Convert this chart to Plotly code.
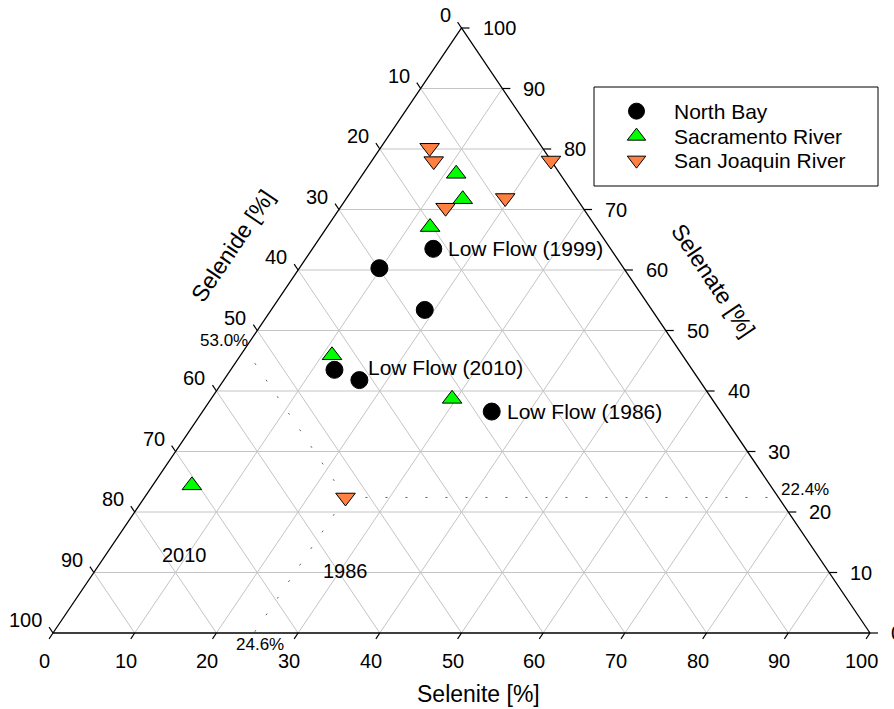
import plotly.graph_objects as go

# ---------------- data (percent) ----------------
north_bay_selenate = [63.5, 60.3, 53.4, 43.5, 41.8, 36.6]
north_bay_selenite = [14.8, 9.8, 18.8, 12.7, 16.6, 35.4]
north_bay_selenide = [21.7, 29.9, 27.8, 43.8, 41.6, 28.0]
north_bay_labels = ["Low Flow (1999)", "", "", "", "Low Flow (2010)", "Low Flow (1986)"]

sacramento_selenate = [75.9, 71.7, 67.1, 45.9, 38.7, 24.4]
sacramento_selenite = [11.4, 14.3, 12.6, 11.2, 29.5, 4.8]
sacramento_selenide = [12.7, 14.0, 20.3, 42.9, 31.8, 70.8]

san_joaquin_selenate = [80.2, 78.0, 70.3, 71.9, 78.1, 22.4]
san_joaquin_selenite = [6.0, 7.6, 12.9, 19.4, 21.9, 24.6]
san_joaquin_selenide = [13.8, 14.4, 16.8, 8.7, 0.0, 53.0]

tick_values = [0, 10, 20, 30, 40, 50, 60, 70, 80, 90, 100]
tick_labels = [str(v) for v in tick_values]

# guide point (San Joaquin River, 1986 low flow)
guide_selenate, guide_selenite, guide_selenide = 22.4, 24.6, 53.0
guide_labels = ["22.4%", "24.6%", "53.0%"]

# free text labels (selenate, selenite)
year_labels = ["2010", "1986"]
year_label_selenate = [12.9, 10.25]
year_label_selenite = [9.65, 30.7]

# ---------------- layout constants ----------------
W, H = 894, 709
TRI_L, TRI_R, TRI_T, TRI_B = 53, 870, 28, 633
PAD = 20
PX_X = (TRI_R - TRI_L) / 100.0
PX_Y = (TRI_B - TRI_T) / 100.0
FONT = "Liberation Sans, Arial, sans-serif"
GRID = "#c4c4c4"

PLOT_X0 = TRI_L - PAD
PLOT_Y0 = TRI_T - PAD
PLOT_W = (TRI_R - TRI_L) + 2 * PAD
PLOT_H = (TRI_B - TRI_T) + 2 * PAD


def px_to_paper(px, py):
    return (px - PLOT_X0) / PLOT_W, 1 - (py - PLOT_Y0) / PLOT_H


def to_xy(selenate, selenite):
    """ternary (selenate = top, selenite = bottom-right) -> cartesian"""
    return selenite + selenate / 2.0, selenate


def pts(selenate_list, selenite_list):
    xs, ys = [], []
    for a, c in zip(selenate_list, selenite_list):
        x, y = to_xy(a, c)
        xs.append(x)
        ys.append(y)
    return xs, ys


fig = go.Figure()

# grid lines
gx, gy = [], []
for v in tick_values[1:-1]:
    segs = [((v, 0), (v, 100 - v)),          # constant selenate
            ((0, v), (100 - v, v)),          # constant selenite
            ((100 - v, 0), (0, 100 - v))]    # constant selenide
    for (a1, c1), (a2, c2) in segs:
        x1, y1 = to_xy(a1, c1)
        x2, y2 = to_xy(a2, c2)
        gx += [x1, x2, None]
        gy += [y1, y2, None]
fig.add_trace(go.Scatter(x=gx, y=gy, mode="lines", line=dict(color=GRID, width=1),
                         hoverinfo="skip", showlegend=False))

# dotted guide lines
ga, gc = guide_selenate, guide_selenite
dx, dy = [], []
for (a2, c2) in [(ga, 100 - ga), (0, gc), (100 - guide_selenide, 0)]:
    x1, y1 = to_xy(ga, gc)
    x2, y2 = to_xy(a2, c2)
    dx += [x1, x2, None]
    dy += [y1, y2, None]
fig.add_trace(go.Scatter(x=dx, y=dy, mode="lines",
                         line=dict(color="#606060", width=1, dash="2px,18px"),
                         hoverinfo="skip", showlegend=False))

# triangle outline
ox, oy = pts([0, 0, 100, 0], [0, 100, 0, 0])
fig.add_trace(go.Scatter(x=ox, y=oy, mode="lines", line=dict(color="black", width=1.3),
                         hoverinfo="skip", showlegend=False))

# tick marks
TL = 7
tx, ty = [], []
for v in tick_values:
    x, y = to_xy(100 - v, 0)          # left (selenide), up-left
    tx += [x, x - 0.559 * TL / PX_X, None]
    ty += [y, y + 0.829 * TL / PX_Y, None]
    x, y = to_xy(0, v)                # bottom (selenite), down-left
    tx += [x, x - 0.559 * TL / PX_X, None]
    ty += [y, y - 0.829 * TL / PX_Y, None]
    x, y = to_xy(v, 100 - v)          # right (selenate), horizontal
    tx += [x, x + 8 / PX_X, None]
    ty += [y, y, None]
fig.add_trace(go.Scatter(x=tx, y=ty, mode="lines", line=dict(color="black", width=1.2),
                         hoverinfo="skip", showlegend=False))

# data series
x, y = pts(north_bay_selenate, north_bay_selenite)
fig.add_trace(go.Scatter(x=x, y=y, mode="markers", name="North Bay", legend="legend",
                         marker=dict(symbol="circle", size=17, color="black",
                                     line=dict(color="black", width=1)),
                         cliponaxis=False))
x, y = pts(sacramento_selenate, sacramento_selenite)
fig.add_trace(go.Scatter(x=x, y=y, mode="markers", name="Sacramento River", legend="legend2",
                         marker=dict(symbol="triangle-up", size=17, color="#00ff00",
                                     line=dict(color="black", width=1)),
                         cliponaxis=False))
x, y = pts(san_joaquin_selenate, san_joaquin_selenite)
fig.add_trace(go.Scatter(x=x, y=y, mode="markers", name="San Joaquin River", legend="legend3",
                         marker=dict(symbol="triangle-down", size=17, color="#ff8040",
                                     line=dict(color="black", width=1)),
                         cliponaxis=False))

ann = []
TF = dict(family=FONT, size=20, color="black")
LF = dict(family=FONT, size=21, color="black")
AF = dict(family=FONT, size=23, color="black")
SF = dict(family=FONT, size=17, color="black")

for v, lab in zip(tick_values, tick_labels):
    x, y = to_xy(100 - v, 0)
    ann.append(dict(x=x, y=y, text=lab, showarrow=False, xanchor="right", yanchor="middle",
                    xshift=-9, yshift=13, font=TF))
    x, y = to_xy(0, v)
    ann.append(dict(x=x, y=y, text=lab, showarrow=False, xanchor="center", yanchor="middle",
                    xshift=-9, yshift=-28, font=TF))
    x, y = to_xy(v, 100 - v)
    ann.append(dict(x=x, y=y, text=lab, showarrow=False, xanchor="left", yanchor="middle",
                    xshift=19, yshift=0, font=TF))

# axis titles
x, y = to_xy(64, 0)
ann.append(dict(x=x, y=y, text="Selenide [%]", showarrow=False, textangle=-56,
                xshift=-82, yshift=0, font=AF))
x, y = to_xy(58.3, 41.7)
ann.append(dict(x=x, y=y, text="Selenate [%]", showarrow=False, textangle=56,
                xshift=81, yshift=0, font=AF))
x, y = to_xy(0, 52)
ann.append(dict(x=x, y=y, text="Selenite [%]", showarrow=False,
                xshift=1, yshift=-61, font=AF))

# point labels
x, y = pts(north_bay_selenate, north_bay_selenite)
shifts = {0: (13, 0), 4: (7, 13), 5: (13, 0)}
for i, lab in enumerate(north_bay_labels):
    if lab:
        xs, ys = shifts[i]
        ann.append(dict(x=x[i], y=y[i], text=lab, showarrow=False, xanchor="left",
                        yanchor="middle", xshift=xs, yshift=ys, font=LF))

for lab, a, c in zip(year_labels, year_label_selenate, year_label_selenite):
    x, y = to_xy(a, c)
    ann.append(dict(x=x, y=y, text=lab, showarrow=False, font=TF))

# guide labels
x, y = to_xy(ga, 100 - ga)
ann.append(dict(x=x, y=y, text=guide_labels[0], showarrow=False, xanchor="left",
                xshift=0, yshift=8, font=SF))
x, y = to_xy(0, gc)
ann.append(dict(x=x, y=y, text=guide_labels[1], showarrow=False, xanchor="center",
                xshift=6, yshift=-11, font=SF))
x, y = to_xy(100 - guide_selenide, 0)
ann.append(dict(x=x, y=y, text=guide_labels[2], showarrow=False, xanchor="right",
                xshift=5, yshift=8, font=SF))

# legend box (drawn as a shape) and one legend per row
bx0, by0 = px_to_paper(594, 87)
bx1, by1 = px_to_paper(878, 186)
shapes = [dict(type="rect", xref="paper", yref="paper", x0=bx0, y0=by1, x1=bx1, y1=by0,
               line=dict(color="black", width=1), fillcolor="rgba(0,0,0,0)", layer="above")]

legend_rows_px = [111.5, 136.5, 160.5]
LEG_X = 599


def leg(py):
    lx, ly = px_to_paper(LEG_X, py)
    return dict(x=lx, y=ly, xanchor="left", yanchor="middle", borderwidth=0,
                bgcolor="rgba(0,0,0,0)", itemwidth=65,
                font=dict(family=FONT, size=21, color="black"))


xpad = PAD / PX_X
ypad = PAD / PX_Y
fig.update_layout(
    width=W, height=H,
    margin=dict(l=PLOT_X0, r=W - TRI_R - PAD, t=PLOT_Y0, b=H - TRI_B - PAD),
    paper_bgcolor="white", plot_bgcolor="white",
    xaxis=dict(range=[-xpad, 100 + xpad], visible=False, fixedrange=True),
    yaxis=dict(range=[-ypad, 100 + ypad], visible=False, fixedrange=True),
    annotations=ann,
    shapes=shapes,
    font=dict(family=FONT, size=20, color="black"),
    legend=leg(legend_rows_px[0]),
    legend2=leg(legend_rows_px[1]),
    legend3=leg(legend_rows_px[2]),
    showlegend=True,
)

fig.write_html("out.html", config={"displayModeBar": False},
               post_script="document.body.style.margin='0';document.body.style.overflow='hidden';")
